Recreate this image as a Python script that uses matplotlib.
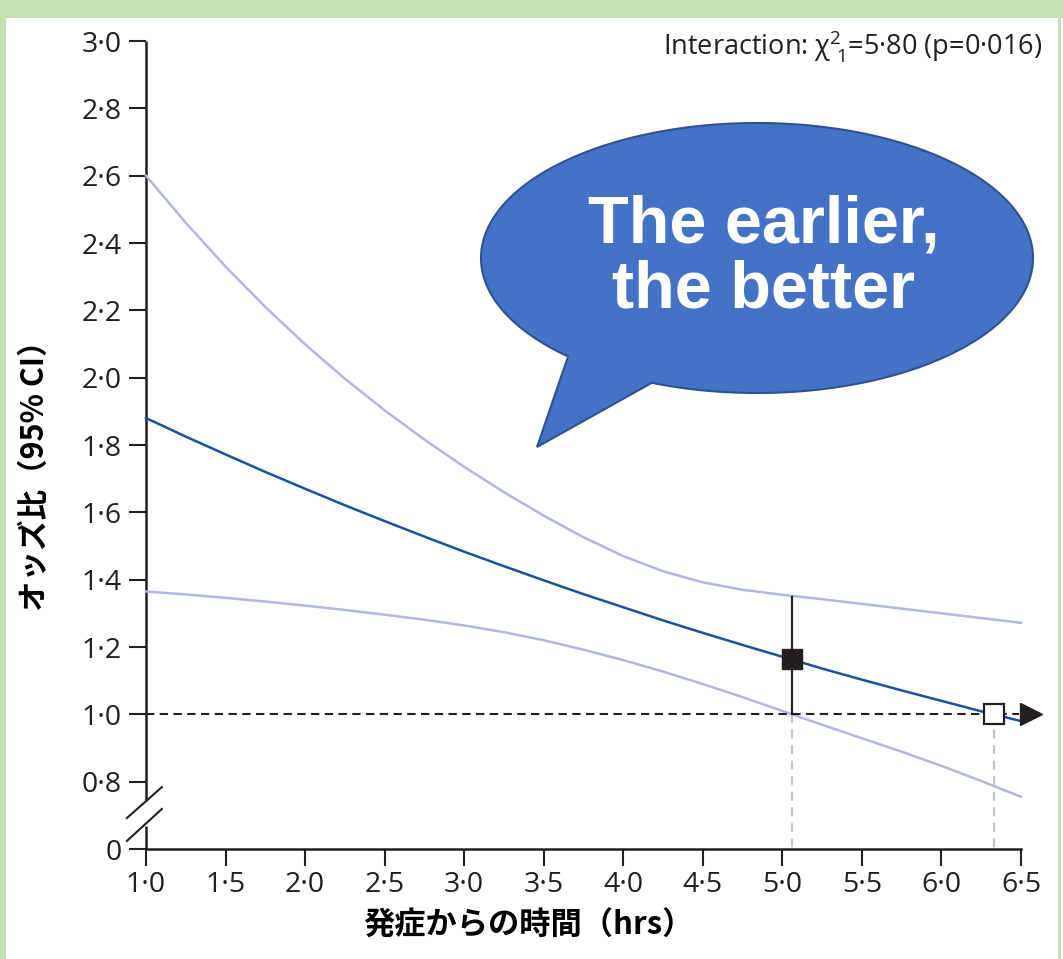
import numpy as np
import matplotlib
matplotlib.use("Agg")
import matplotlib.pyplot as plt
from matplotlib.patches import Rectangle, Polygon

# ---------------- data ----------------
hours = [1.0, 1.25, 1.5, 1.75, 2.0, 2.25, 2.5, 2.75, 3.0, 3.25, 3.5, 3.75,
         4.0, 4.25, 4.5, 4.75, 5.0, 5.25, 5.5, 5.75, 6.0, 6.25, 6.5]
or_main = [1.880, 1.825, 1.772, 1.720, 1.670, 1.621, 1.574, 1.528, 1.483, 1.440,
           1.398, 1.357, 1.318, 1.279, 1.242, 1.206, 1.171, 1.136, 1.103, 1.071,
           1.040, 1.009, 0.980]
ci_upper = [2.600, 2.460, 2.330, 2.210, 2.099, 1.997, 1.903, 1.816, 1.735, 1.660,
            1.590, 1.526, 1.470, 1.425, 1.392, 1.370, 1.355, 1.342, 1.328, 1.314,
            1.300, 1.286, 1.272]
ci_lower = [1.365, 1.356, 1.346, 1.335, 1.323, 1.310, 1.296, 1.281, 1.264, 1.244,
            1.220, 1.192, 1.161, 1.127, 1.090, 1.051, 1.010, 0.969, 0.929, 0.889,
            0.847, 0.802, 0.755]

marker_x = 5.06          # filled square (time where lower CI crosses 1)
marker_or = 1.163
marker_hi = 1.35
open_x = 6.33            # open square (time where OR crosses 1)
ref_or = 1.0

x_ticks = [1.0, 1.5, 2.0, 2.5, 3.0, 3.5, 4.0, 4.5, 5.0, 5.5, 6.0, 6.5]
x_labels = ["1·0", "1·5", "2·0", "2·5", "3·0", "3·5", "4·0", "4·5", "5·0", "5·5", "6·0", "6·5"]
y_ticks = [0.6, 0.8, 1.0, 1.2, 1.4, 1.6, 1.8, 2.0, 2.2, 2.4, 2.6, 2.8, 3.0]
y_labels = ["0", "0·8", "1·0", "1·2", "1·4", "1·6", "1·8", "2·0", "2·2", "2·4", "2·6", "2·8", "3·0"]

xlabel = "発症からの時間（hrs）"
ylabel = "オッズ比（95% CI）"
interaction = r"Interaction: $\mathregular{\chi^2_{\ 1}}$=5·80 (p=0·016)"
bubble_text = "The earlier,\nthe better"

# ---------------- style ----------------
W, H = 1063, 959
DARK = "#231f20"
MAIN = "#1a51a0"
CI = "#b2b7e0"
GREEN = "#c5e0b4"
plt.rcParams["font.family"] = ["Open Sans", "DejaVu Sans"]
plt.rcParams["mathtext.default"] = "regular"

fig = plt.figure(figsize=(W / 100, H / 100), dpi=100)
fig.patch.set_facecolor("white")

# green frame
fig.patches.append(Rectangle((0, 1 - 18 / H), 1, 18 / H, transform=fig.transFigure,
                             facecolor=GREEN, edgecolor="none", zorder=0))
fig.patches.append(Rectangle((0, 0), 6 / W, 1, transform=fig.transFigure,
                             facecolor=GREEN, edgecolor="none", zorder=0))
fig.patches.append(Rectangle((1058 / W, 0), 3 / W, 1, transform=fig.transFigure,
                             facecolor=GREEN, edgecolor="none", zorder=0))

x0, x1, ytop, ybot = 146, 1021, 41, 849
ax = fig.add_axes([x0 / W, 1 - ybot / H, (x1 - x0) / W, (ybot - ytop) / H])
ax.set_xlim(1.0, 6.5)
ax.set_ylim(0.6, 3.0)
ax.patch.set_alpha(0)

for s in ["top", "right", "left"]:
    ax.spines[s].set_visible(False)
ax.spines["bottom"].set_linewidth(1.8)
ax.spines["bottom"].set_color(DARK)

ax.set_xticks(x_ticks)
ax.set_xticklabels(x_labels)
ax.set_yticks(y_ticks)
ax.set_yticklabels(y_labels)
ax.tick_params(axis="both", direction="out", length=12.5, width=1.5, color=DARK,
               labelsize=20.5, labelcolor=DARK)
ax.tick_params(axis="x", pad=3)
ax.tick_params(axis="y", pad=5)

# left spine with axis break
ax.plot([1.0, 1.0], [3.0, 0.742], color=DARK, lw=1.8, clip_on=False, solid_capstyle="butt")
ax.plot([1.0, 1.0], [0.668, 0.6], color=DARK, lw=1.8, clip_on=False, solid_capstyle="butt")
ax.plot([0.88, 1.10], [0.692, 0.784], color=DARK, lw=1.5, clip_on=False)
ax.plot([0.88, 1.10], [0.624, 0.719], color=DARK, lw=1.5, clip_on=False)

# curves
ax.plot(hours, ci_upper, color=CI, lw=1.8, zorder=3, clip_on=False)
ax.plot(hours, ci_lower, color=CI, lw=1.8, zorder=3, clip_on=False)
ax.plot(hours, or_main, color=MAIN, lw=1.8, zorder=4, clip_on=False)

# reference line with arrow
ax.plot([1.0, 6.49], [ref_or, ref_or], color=DARK, lw=1.5, ls=(0, (4, 2.6)), zorder=5,
        clip_on=False)
ax.plot([6.56], [ref_or], marker=">", markersize=16, color=DARK, zorder=6, clip_on=False)

# vertical grey dashed drop lines
for xv in [marker_x, open_x]:
    ax.plot([xv, xv], [ref_or, 0.6], color="#c0c6cd", lw=1.6, ls=(0, (4, 3)), zorder=2)

# error bar and markers
ax.plot([marker_x, marker_x], [ref_or, marker_hi], color=DARK, lw=1.6, zorder=6)
ax.plot([marker_x], [marker_or], marker="s", markersize=15, color=DARK,
        markeredgecolor=DARK, zorder=7)
ax.plot([open_x], [ref_or], marker="s", markersize=14, markerfacecolor="white",
        markeredgecolor=DARK, markeredgewidth=1.6, zorder=7, clip_on=False)

# axis labels
fig.text(528 / W, 1 - 926 / H, xlabel, ha="center", va="center", fontsize=22.5,
         fontweight="bold", family=["Noto Sans CJK JP", "DejaVu Sans"], color="black")
fig.text(35 / W, 1 - 468 / H, ylabel, ha="center", va="center", rotation=90,
         fontsize=22, fontweight="bold", family=["Noto Sans CJK JP", "DejaVu Sans"],
         color="black")

# interaction text
fig.text(1042 / W, 1 - 55 / H, interaction, ha="right", va="baseline", fontsize=19.5,
         color=DARK)

# speech bubble (overlay in pixel coordinates)
ov = fig.add_axes([0, 0, 1, 1], zorder=10)
ov.set_xlim(0, W)
ov.set_ylim(H, 0)
ov.axis("off")
cx, cy, a, b = 757, 258, 276, 135
t0, t1 = np.deg2rad(133.2), np.deg2rad(112.4 + 360)
t = np.linspace(t0, t1, 400)
pts = np.column_stack([cx + a * np.cos(t), cy + b * np.sin(t)])
pts = np.vstack([pts, [[537, 447]]])
ov.add_patch(Polygon(pts, closed=True, facecolor="#4472c4", edgecolor="#2f528f", lw=1.5))
ov.text(764, 258, bubble_text, ha="center", va="center", color="white", fontsize=48,
        fontweight="bold", family=["Liberation Sans", "DejaVu Sans"], linespacing=1.05)

fig.savefig("out.png", dpi=100)
